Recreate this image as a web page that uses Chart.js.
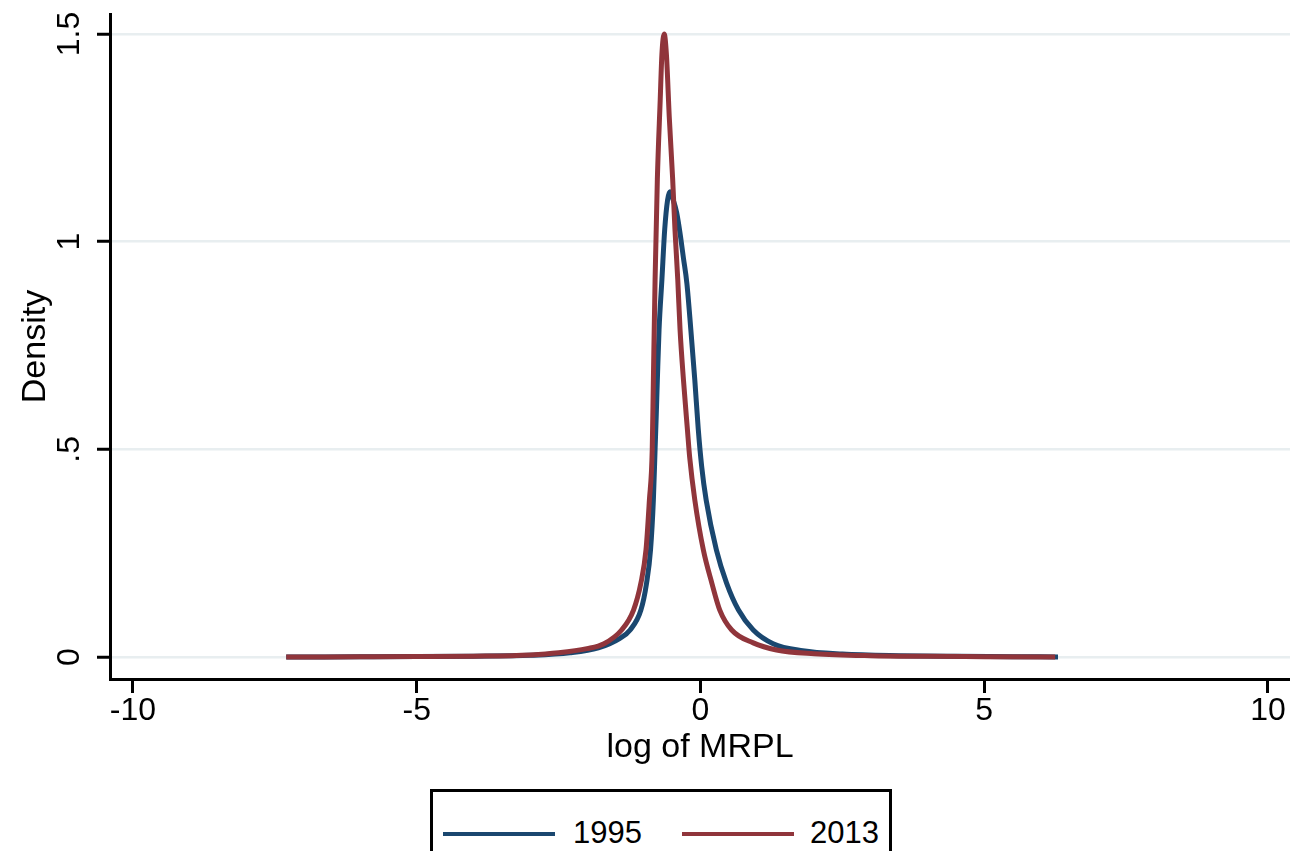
<!DOCTYPE html>
<html>
<head>
<meta charset="utf-8">
<script src="https://cdn.jsdelivr.net/npm/chart.js@4.4.1/dist/chart.umd.min.js"></script>
<style>
  html, body { margin: 0; padding: 0; background: #ffffff; overflow: hidden; }
  #wrap { position: relative; width: 1290px; height: 851px; overflow: hidden; }
  #c { position: absolute; left: 0; top: 0; }
  #legend {
    position: absolute; left: 430px; top: 789px; width: 456px; height: 90px;
    border: 3px solid #000; box-sizing: content-box; background: #fff;
    font-family: "Liberation Sans", Arial, sans-serif; font-size: 31px; color: #000;
  }
  .item { position: absolute; top: 22px; height: 38px; line-height: 38px; }
  .swatch { position: absolute; top: 18px; height: 4px; width: 112px; }
  .lbl { position: absolute; top: 0; white-space: nowrap; }
</style>
</head>
<body>
<div id="wrap">
  <canvas id="c" width="1290" height="851"></canvas>
  <div id="legend"></div>
</div>
<script>
// ---- Data ----
const seriesNames = ["1995", "2013"];
const seriesColors = ["#1a476f", "#90353b"];

const x1995 = [-7.3, -6, -5, -4, -3, -2.3, -1.8, -1.42, -1.24, -1.05, -0.95, -0.88, -0.83, -0.80, -0.78, -0.76, -0.73, -0.68, -0.63, -0.58, -0.54, -0.48, -0.42, -0.36, -0.30, -0.24, -0.17, -0.10, -0.04, 0.02, 0.10, 0.28, 0.46, 0.67, 0.93, 1.28, 1.8, 2.5, 3.5, 4.5, 5.5, 6.3];
const y1995 = [0, 0.0005, 0.001, 0.002, 0.004, 0.01, 0.022, 0.045, 0.065, 0.113, 0.178, 0.258, 0.378, 0.5, 0.58, 0.667, 0.788, 0.908, 1.03, 1.10, 1.12, 1.10, 1.07, 1.02, 0.96, 0.90, 0.788, 0.667, 0.55, 0.46, 0.378, 0.258, 0.178, 0.113, 0.065, 0.032, 0.015, 0.007, 0.003, 0.0015, 0.0008, 0];

const x2013 = [-7.3, -6, -5, -4, -3, -2.5, -2, -1.7, -1.39, -1.18, -1.05, -0.96, -0.90, -0.85, -0.83, -0.80, -0.76, -0.71, -0.68, -0.64, -0.60, -0.55, -0.49, -0.45, -0.40, -0.36, -0.30, -0.23, -0.19, -0.10, 0.05, 0.20, 0.34, 0.55, 0.93, 1.34, 2, 3, 4, 5, 6.25];
const y2013 = [0, 0.0005, 0.001, 0.002, 0.005, 0.01, 0.02, 0.032, 0.065, 0.113, 0.178, 0.258, 0.378, 0.5, 0.667, 0.908, 1.15, 1.34, 1.45, 1.5, 1.45, 1.3, 1.15, 1.03, 0.908, 0.788, 0.667, 0.547, 0.48, 0.378, 0.258, 0.178, 0.113, 0.065, 0.034, 0.017, 0.008, 0.003, 0.0015, 0.0008, 0];

const xTicks = [-10, -5, 0, 5, 10];
const xTickLabels = ["-10", "-5", "0", "5", "10"];
const yTicks = [0, 0.5, 1, 1.5];
const yTickLabels = ["0", ".5", "1", "1.5"];
const xTitle = "log of MRPL";
const yTitle = "Density";

// ---- Build ----
const FONT = '"Liberation Sans", Arial, sans-serif';
const toPts = (xs, ys) => xs.map((x, i) => ({ x: x, y: ys[i] }));

const rotatedYLabels = {
  id: 'rotatedYLabels',
  afterDraw(chart) {
    const s = chart.scales.y, ctx = chart.ctx;
    ctx.save();
    ctx.fillStyle = '#000';
    ctx.font = '32px ' + FONT;
    ctx.textAlign = 'center';
    ctx.textBaseline = 'middle';
    yTicks.forEach((v, i) => {
      const py = s.getPixelForValue(v);
      ctx.save();
      ctx.translate(70, py);
      ctx.rotate(-Math.PI / 2);
      ctx.fillText(yTickLabels[i], 0, 0);
      ctx.restore();
    });
    ctx.restore();
  }
};

new Chart(document.getElementById('c'), {
  type: 'line',
  data: {
    datasets: [
      { label: seriesNames[0], data: toPts(x1995, y1995), borderColor: seriesColors[0], borderWidth: 5, pointRadius: 0, cubicInterpolationMode: 'monotone', fill: false, order: 2 },
      { label: seriesNames[1], data: toPts(x2013, y2013), borderColor: seriesColors[1], borderWidth: 5, pointRadius: 0, cubicInterpolationMode: 'monotone', fill: false, order: 1 }
    ]
  },
  options: {
    responsive: false,
    animation: false,
    devicePixelRatio: 1,
    layout: { padding: { left: 0, right: 0, top: 14, bottom: 0 } },
    plugins: { legend: { display: false }, tooltip: { enabled: false } },
    scales: {
      x: {
        type: 'linear', min: -10.405, max: 10.388,
        afterBuildTicks: (s) => { s.ticks = xTicks.map(v => ({ value: v })); },
        afterFit: (s) => { s.height = 172; },
        ticks: {
          callback: (v) => xTickLabels[xTicks.indexOf(v)],
          color: '#000', font: { family: FONT, size: 32 }, padding: -1, maxRotation: 0, autoSkip: false
        },
        grid: { drawOnChartArea: false, drawTicks: true, tickLength: 14, tickColor: '#000', tickWidth: 3 },
        border: { display: true, color: '#000', width: 3 },
        title: { display: true, text: xTitle, color: '#000', font: { family: FONT, size: 34 }, padding: { top: 0, bottom: 83 } }
      },
      y: {
        type: 'linear', min: -0.053, max: 1.548,
        afterBuildTicks: (s) => { s.ticks = yTicks.map(v => ({ value: v })); },
        afterFit: (s) => { s.width = 110; },
        ticks: { display: false },
        grid: { color: '#e8eef0', lineWidth: 2.5, drawTicks: true, tickLength: 13, tickColor: '#000', tickWidth: 3 },
        border: { display: true, color: '#000', width: 3 },
        title: { display: true, text: yTitle, color: '#000', font: { family: FONT, size: 34 }, padding: { top: 15, bottom: 0 } }
      }
    }
  },
  plugins: [rotatedYLabels]
});

// ---- HTML legend with box ----
const lg = document.getElementById('legend');
const swX = [10, 249];
const lbX = [140, 377];
seriesNames.forEach((n, i) => {
  const it = document.createElement('div');
  it.className = 'item';
  it.style.left = '0px';
  it.style.width = '100%';
  const sw = document.createElement('div');
  sw.className = 'swatch';
  sw.style.left = swX[i] + 'px';
  sw.style.background = seriesColors[i];
  const lb = document.createElement('div');
  lb.className = 'lbl';
  lb.style.left = lbX[i] + 'px';
  lb.textContent = n;
  it.appendChild(sw); it.appendChild(lb);
  lg.appendChild(it);
});
</script>
</body>
</html>
